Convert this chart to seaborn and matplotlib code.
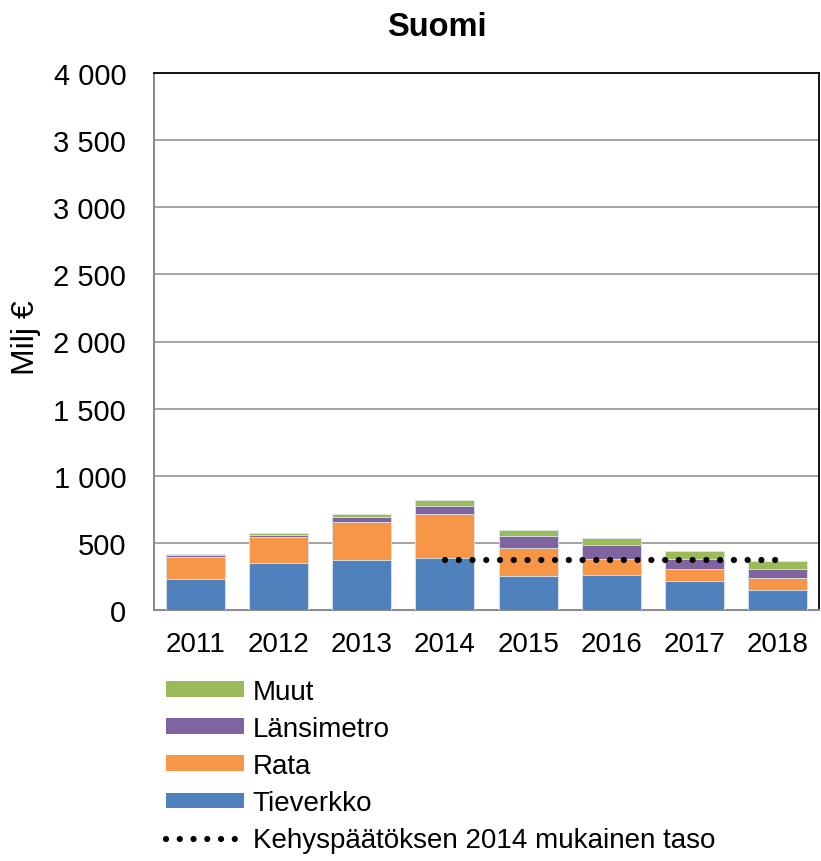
import numpy as np
import pandas as pd
import matplotlib
matplotlib.use("Agg")
import matplotlib.pyplot as plt
import seaborn as sns
from matplotlib.patches import Patch
from matplotlib.lines import Line2D
from matplotlib.ticker import FuncFormatter

# Data (Milj €)
years = ["2011", "2012", "2013", "2014", "2015", "2016", "2017", "2018"]
tieverkko = [230, 350, 370, 385, 255, 260, 215, 148]
rata = [165, 192, 285, 327, 205, 123, 87, 90]
lansimetro = [12, 20, 37, 63, 88, 102, 78, 64]
muut = [13, 8, 23, 45, 50, 50, 57, 60]

kehys_years = ["2014", "2015", "2016", "2017", "2018"]
kehys_level = [375, 375, 375, 375, 375]

series = ["Tieverkko", "Rata", "Länsimetro", "Muut"]
colors = {"Tieverkko": "#4F81BD", "Rata": "#F79646",
          "Länsimetro": "#8064A2", "Muut": "#9BBB59"}

df = pd.DataFrame({"year": years, "Tieverkko": tieverkko, "Rata": rata,
                   "Länsimetro": lansimetro, "Muut": muut})
cum = df[series].cumsum(axis=1)

sns.set_theme(style="white")
plt.rcParams["font.family"] = ["Liberation Sans", "DejaVu Sans"]
plt.rcParams["text.color"] = "black"

fig = plt.figure(figsize=(8.21, 8.62), dpi=100)
ax = fig.add_axes([154 / 821, 1 - 611 / 862, (819 - 154) / 821, (611 - 74) / 862])

# stacked bars: draw cumulative totals from the top series down
for s in reversed(series):
    sns.barplot(x=df["year"], y=cum[s], order=years, color=colors[s],
                width=0.71, saturation=1, edgecolor="#DDE6F0", linewidth=0.6,
                ax=ax, zorder=3)

dots = (0, (0.001, 2.2))
pos = [years.index(y) for y in kehys_years]
sns.lineplot(x=pos, y=kehys_level, color="black", lw=4.5,
             linestyle=dots, dash_capstyle="round", ax=ax, zorder=4)

ax.set_ylim(0, 4000)
ax.set_xlim(-0.5, 7.5)
ax.set_yticks(range(0, 4001, 500))
ax.yaxis.set_major_formatter(FuncFormatter(lambda v, p: f"{int(v):,}".replace(",", " ")))
ax.grid(axis="y", color="#8C8C8C", lw=1.1, zorder=0)
ax.set_axisbelow(True)
ax.tick_params(axis="y", length=0, pad=20, labelsize=21, colors="black")
ax.tick_params(axis="x", length=0, pad=15, labelsize=20, colors="black")
ax.set_xlabel("")
ax.set_ylabel("")
for side in ["left", "bottom"]:
    ax.spines[side].set_color("#8C8C8C")
    ax.spines[side].set_linewidth(1.5)
for side in ["top", "right"]:
    ax.spines[side].set_color("black")
    ax.spines[side].set_linewidth(1.3)
    ax.spines[side].set_visible(True)

fig.text(437 / 821, 1 - 28 / 862, "Suomi", ha="center", va="center",
         fontsize=23.5, fontweight="bold", color="black")
fig.text(26 / 821, 1 - 338 / 862, "Milj €", ha="center", va="center",
         rotation=90, fontsize=23, color="black")

handles = [Patch(facecolor=colors[s], edgecolor="none") for s in reversed(series)]
labels = list(reversed(series))
handles.append(Line2D([0], [0], color="black", lw=4.5, linestyle=dots,
                      dash_capstyle="round"))
labels.append("Kehyspäätöksen 2014 mukainen taso")
leg = fig.legend(handles, labels, loc="upper left",
                 bbox_to_anchor=(166 / 821, 1 - 680 / 862), frameon=False,
                 fontsize=20, handlelength=2.8, handleheight=0.5, labelspacing=0.4,
                 handletextpad=0.32, borderpad=0, borderaxespad=0)
for t in leg.get_texts():
    t.set_color("black")

fig.savefig("out.png", dpi=100)
